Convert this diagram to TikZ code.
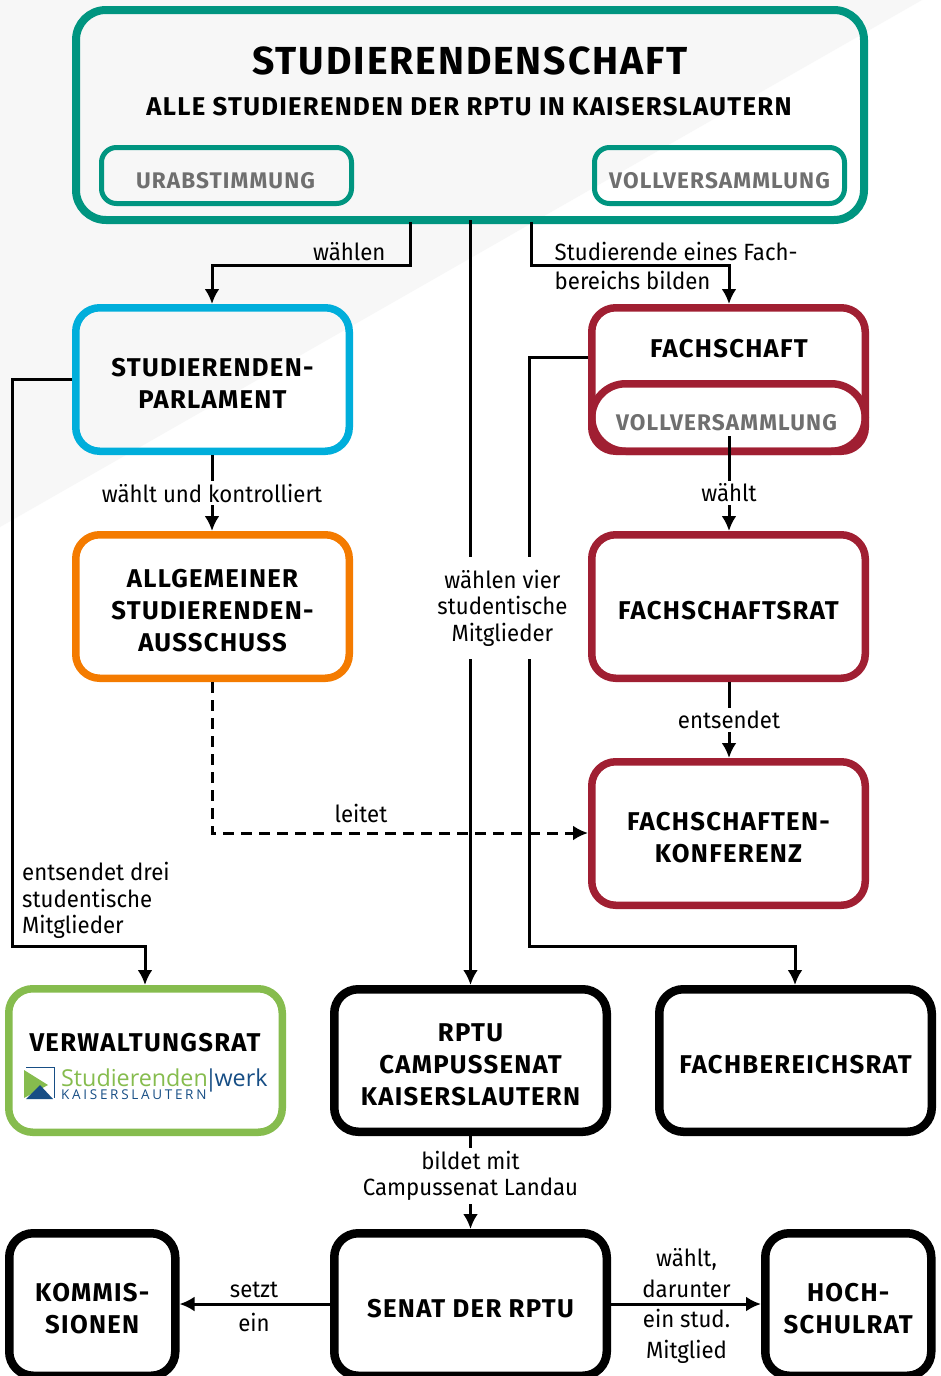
\documentclass[tikz,border=0pt]{standalone}
\usepackage{fontspec}
\usetikzlibrary{arrows.meta,calc}
\setmainfont[FakeStretch=0.945]{Fira Sans}
\newfontfamily\hd[LetterSpace=5]{Fira Sans Bold}
\newfontfamily\logoreg{Open Sans}
\newfontfamily\logospaced[LetterSpace=20]{Open Sans}
\newcommand\tx[1]{\raisebox{-13pt}[0pt][0pt]{\begin{tabular}{@{}c@{}}#1\end{tabular}}}
\definecolor{teal}{HTML}{009580}
\definecolor{sky}{HTML}{00AEDB}
\definecolor{ora}{HTML}{F47B00}
\definecolor{wine}{HTML}{A01F32}
\definecolor{lime}{HTML}{86BC4E}
\definecolor{logob}{HTML}{174E85}
\definecolor{gry}{HTML}{6F6F6F}
\definecolor{bgg}{HTML}{F7F7F7}
\tikzset{
 x=1pt,y=-1pt,
 boxbase/.style={draw,rounded corners=24pt,align=center,anchor=north west,inner sep=0pt,text=black,font=\hd\fontsize{25.7}{32}\selectfont,line width=7.5pt},
 wbox/.style={boxbase,minimum width=273.5pt,minimum height=143.5pt},
 blackw/.style={boxbase,draw=black,line width=8.5pt,minimum width=272.5pt,minimum height=142.5pt},
 blacks/.style={boxbase,draw=black,line width=8.5pt,minimum width=166pt,minimum height=142.5pt},
 inb/.style={draw=teal,rounded corners=15pt,line width=5pt,anchor=north west,minimum width=250pt,minimum height=56pt,inner sep=0pt,text=gry,font=\hd\fontsize{22.6}{28}\selectfont},
 conn/.style={line width=3pt,-{Latex[length=15pt,width=15pt]}},
 lbl/.style={font=\fontsize{23.5}{26.5}\selectfont,align=center,inner sep=0pt,text=black},
 gap/.style={lbl,fill=white,inner xsep=1pt,inner ysep=3pt},
}
\begin{document}
\begin{tikzpicture}
\useasboundingbox (0,0) rectangle (940,1376);
\fill[white] (0,0) rectangle (940,1376);
\fill[bgg] (0,0) -- (922,0) -- (0,527) -- cycle;
\clip (0,0) rectangle (940,1376);
% connector coordinates
\coordinate (c1a) at (410,222); \coordinate (c1b) at (410,265); \coordinate (c1c) at (212,265);
\coordinate (c2a) at (531,222); \coordinate (c2b) at (531,265); \coordinate (c2c) at (729,265);
\coordinate (c3a) at (470.5,220);
\coordinate (c4a) at (529.5,357); \coordinate (c4b) at (529.5,946); \coordinate (c4c) at (795,946);
\coordinate (c5a) at (12,379); \coordinate (c5b) at (12,946); \coordinate (c5c) at (145,946);
\coordinate (c6a) at (212,833);
\coordinate (c7a) at (729,436);
% boxes
\node[boxbase,draw=teal,line width=8pt,rounded corners=30pt,minimum width=788pt,minimum height=210pt] (top) at (72,6) {};
\node[font=\hd\fontsize{39.1}{44}\selectfont,inner sep=0pt] (title) at (470,60.5) {STUDIERENDENSCHAFT};
\node[font=\hd\fontsize{25.7}{30}\selectfont,inner sep=0pt] (sub) at (469,107) {ALLE STUDIERENDEN DER RPTU IN KAISERSLAUTERN};
\node[inb] (ur) at (99,145) {\tx{\kern-2pt URABSTIMMUNG}};
\node[inb] (vv) at (592,145) {\tx{VOLLVERSAMMLUNG}};
\node[wbox,draw=sky] (par) at (72,304) {\tx{STUDIERENDEN-\\PARLAMENT}};
\node[wbox,draw=ora] (asta) at (72,531) {\tx{ALLGEMEINER\\STUDIERENDEN-\\AUSSCHUSS}};
\node[wbox,draw=wine] (fs) at (588,304) {};
\node[font=\hd\fontsize{25.7}{32}\selectfont,inner sep=0pt] (fst) at (729,349) {FACHSCHAFT};
\node[boxbase,draw=wine,rounded corners=34pt,minimum width=273.5pt,minimum height=67.5pt,text=gry,font=\hd\fontsize{22.6}{28}\selectfont] (fsv) at (588,380) {\tx{\kern-4pt VOLLVERSAMMLUNG}};
\node[wbox,draw=wine] (fsr) at (588,531) {\tx{FACHSCHAFTSRAT}};
\node[wbox,draw=wine] (fk) at (588,758) {\tx{FACHSCHAFTEN-\\KONFERENZ}};
\node[wbox,draw=lime] (vr) at (5,985) {};
\node[font=\hd\fontsize{25.7}{32}\selectfont,inner sep=0pt] (vrt) at (145,1043) {VERWALTUNGSRAT};
\node[blackw] (cs) at (330,985) {\tx{RPTU\\CAMPUSSENAT\\KAISERSLAUTERN}};
\node[blackw] (fb) at (655,985) {\tx{FACHBEREICHSRAT}};
\node[blacks] (kom) at (5,1229) {\tx{KOMMIS-\\SIONEN}};
\node[blackw] (sen) at (330,1229) {\tx{SENAT DER RPTU}};
\node[blacks] (hr) at (761,1229) {\tx{HOCH-\\SCHULRAT}};
% logo
\draw[logob,line width=1.6pt] (26,1067.5) -- (54.5,1067.5) -- (54.5,1098);
\fill[lime] (24,1070) -- (48,1085) -- (24,1098) -- cycle;
\fill[logob] (26,1099) -- (40,1085) -- (53,1099) -- cycle;
\node[anchor=base west,inner sep=0pt,text=lime,font=\logoreg\fontsize{23.3}{25}\selectfont] (lg1) at (61,1086) {Studierenden};
\node[anchor=base west,inner sep=0pt,text=logob,font=\logoreg\fontsize{23.3}{25}\selectfont] (lg2) at (204.5,1086) {|\kern-3pt werk};
\node[anchor=base west,inner sep=0pt,text=logob,font=\logospaced\fontsize{13.5}{14}\selectfont] (lg3) at (61,1099) {KAISERSLAUTERN};
% lines
\draw[conn] (c1a) -- (c1b) -- (c1c) -- (c1c |- par.north);
\draw[conn] (c2a) -- (c2b) -- (c2c) -- (c2c |- fs.north);
\draw[conn] (c3a) -- (c3a |- cs.north);
\draw[conn] (fs.west |- c4a) -- (c4a) -- (c4b) -- (c4c) -- (c4c |- fb.north);
\draw[conn] (par.west) -- (par.west -| c5a) -- (c5b) -- (c5c) -- (c5c |- vr.north);
\draw[conn] (c1c |- par.south) -- (c1c |- asta.north);
\draw[conn,dashed,dash pattern=on 11pt off 7pt] (c1c |- asta.south) -- (c6a) -- (c6a -| fk.west);
\draw[conn] (c7a) -- (c7a |- fsr.north);
\draw[conn] (c7a |- fsr.south) -- (c7a |- fk.north);
\draw[conn] (c3a |- cs.south) -- (c3a |- sen.north);
\draw[conn] (sen.west |- 0,1304) -- (kom.east |- 0,1304);
\draw[conn] (sen.east |- 0,1304) -- (hr.west |- 0,1304);
% labels
\node[lbl,anchor=base west] (l1) at (313,260) {wählen};
\node[lbl,anchor=north west,align=left,font=\fontsize{23.5}{29}\selectfont] (l2) at (554.5,242) {Studierende eines Fach-\\bereichs bilden};
\node[gap] (l3) at (212,493) {wählt und kontrolliert};
\node[gap] (l4) at (729,493) {wählt};
\node[gap] (l5) at (729,720) {entsendet};
\node[gap,inner xsep=3pt,minimum height=102pt,minimum width=127pt] (l6) at (502.5,608) {wählen vier\\studentische\\Mitglieder};
\node[lbl,anchor=base] (l7) at (361,822) {leitet};
\node[lbl,anchor=north west,align=left] (l8) at (22,862) {entsendet drei\\studentische\\Mitglieder};
\node[gap] (l9) at (470.5,1176) {bildet mit\\Campussenat Landau};
\node[lbl] (l10) at (254,1290) {setzt};
\node[lbl] (l11) at (254,1322) {ein};
\node[lbl,font=\fontsize{23.5}{31}\selectfont] (l12) at (686.5,1273.5) {wählt,\\darunter};
\node[lbl,font=\fontsize{23.5}{31}\selectfont] (l13) at (686.5,1336.5) {ein stud.\\Mitglied};
\end{tikzpicture}
\end{document}
